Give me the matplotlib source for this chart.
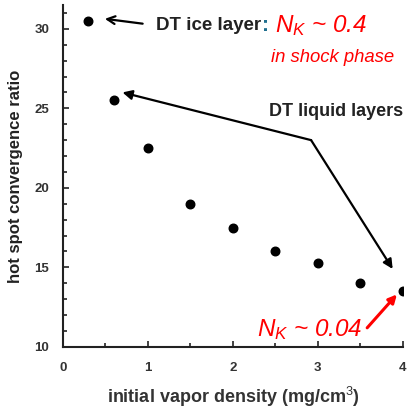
import numpy as np
import matplotlib.pyplot as plt

plt.rcParams['font.family'] = ['Liberation Sans', 'DejaVu Sans']
plt.rcParams['mathtext.fontset'] = 'custom'
plt.rcParams['mathtext.it'] = 'Liberation Sans:italic'
plt.rcParams['mathtext.rm'] = 'Liberation Sans'

# vapor density (mg/cm3) and convergence ratio
density = [0.3, 0.6, 1.0, 1.5, 2.0, 2.5, 3.0, 3.5, 4.0]
convergence = [30.5, 25.5, 22.5, 19.0, 17.5, 16.0, 15.3, 14.0, 13.5]

fig = plt.figure(figsize=(4.09, 4.12), dpi=100)
ax = fig.add_axes([0.154, 0.158, 0.831, 0.830])

ax.scatter(density, convergence, s=38, color='black', zorder=3)

ax.set_xlim(0, 4)
ax.set_ylim(10, 31.5)
ax.set_xticks([0, 1, 2, 3, 4])
ax.set_xticks(np.arange(0.5, 4, 1), minor=True)
ax.set_yticks([10, 15, 20, 25, 30])
ax.set_yticks(np.arange(11, 32, 1), minor=True)
ax.tick_params(which='both', direction='in', width=1.2, colors='#222222',
               labelcolor='#333333', labelsize=9.5)
ax.tick_params(which='major', length=4)
ax.tick_params(which='minor', length=3)
ax.tick_params(axis='x', pad=11)
ax.tick_params(axis='y', pad=10)
for lab in ax.get_xticklabels() + ax.get_yticklabels():
    lab.set_fontweight('bold')
for s in ['top', 'right']:
    ax.spines[s].set_visible(False)
for s in ['left', 'bottom']:
    ax.spines[s].set_linewidth(1.5)
    ax.spines[s].set_color('#222222')

ax.set_xlabel('initial vapor density (mg/cm$^3$)', fontsize=13,
              fontweight='bold', color='#333333', labelpad=8)
ax.set_ylabel('hot spot convergence ratio', fontsize=12,
              fontweight='bold', color='#222222', labelpad=8)

# ice layer annotation
ax.annotate('', xy=(0.46, 30.65), xytext=(0.97, 30.3),
            arrowprops=dict(arrowstyle='->', lw=1.6, color='black',
                            mutation_scale=14))
ax.text(1.1, 30.2, 'DT ice layer', fontsize=13.5, fontweight='bold',
        color='#222222', va='center')
ax.text(2.34, 30.2, ':', fontsize=15, fontweight='bold', color='#1f6f8f',
        va='center')
ax.text(2.5, 30.2, r'$N_K$ ~ 0.4', fontsize=17.5, color='red',
        style='italic', va='center')
ax.text(2.45, 28.2, 'in shock phase', fontsize=13.3, color='red',
        style='italic', va='center')

# liquid layer annotation
vertex = (2.92, 23.0)
ax.annotate('', xy=(0.7, 26.0), xytext=vertex,
            arrowprops=dict(arrowstyle='-|>', lw=1.6, color='black',
                            mutation_scale=14, shrinkA=0, shrinkB=0))
ax.annotate('', xy=(3.88, 14.9), xytext=vertex,
            arrowprops=dict(arrowstyle='-|>', lw=1.6, color='black',
                            mutation_scale=14, shrinkA=0, shrinkB=0))
ax.text(2.43, 24.8, 'DT liquid layers', fontsize=13, fontweight='bold',
        color='#222222', va='center')

# low N_K annotation
ax.annotate('', xy=(3.93, 13.3), xytext=(3.58, 11.2),
            arrowprops=dict(arrowstyle='-|>', lw=2.2, color='red',
                            mutation_scale=12, shrinkA=0, shrinkB=0))
ax.text(3.52, 11.1, r'$N_K$ ~ 0.04', fontsize=17.5, color='red',
        style='italic', va='center', ha='right')

fig.savefig('out.png', dpi=100)
